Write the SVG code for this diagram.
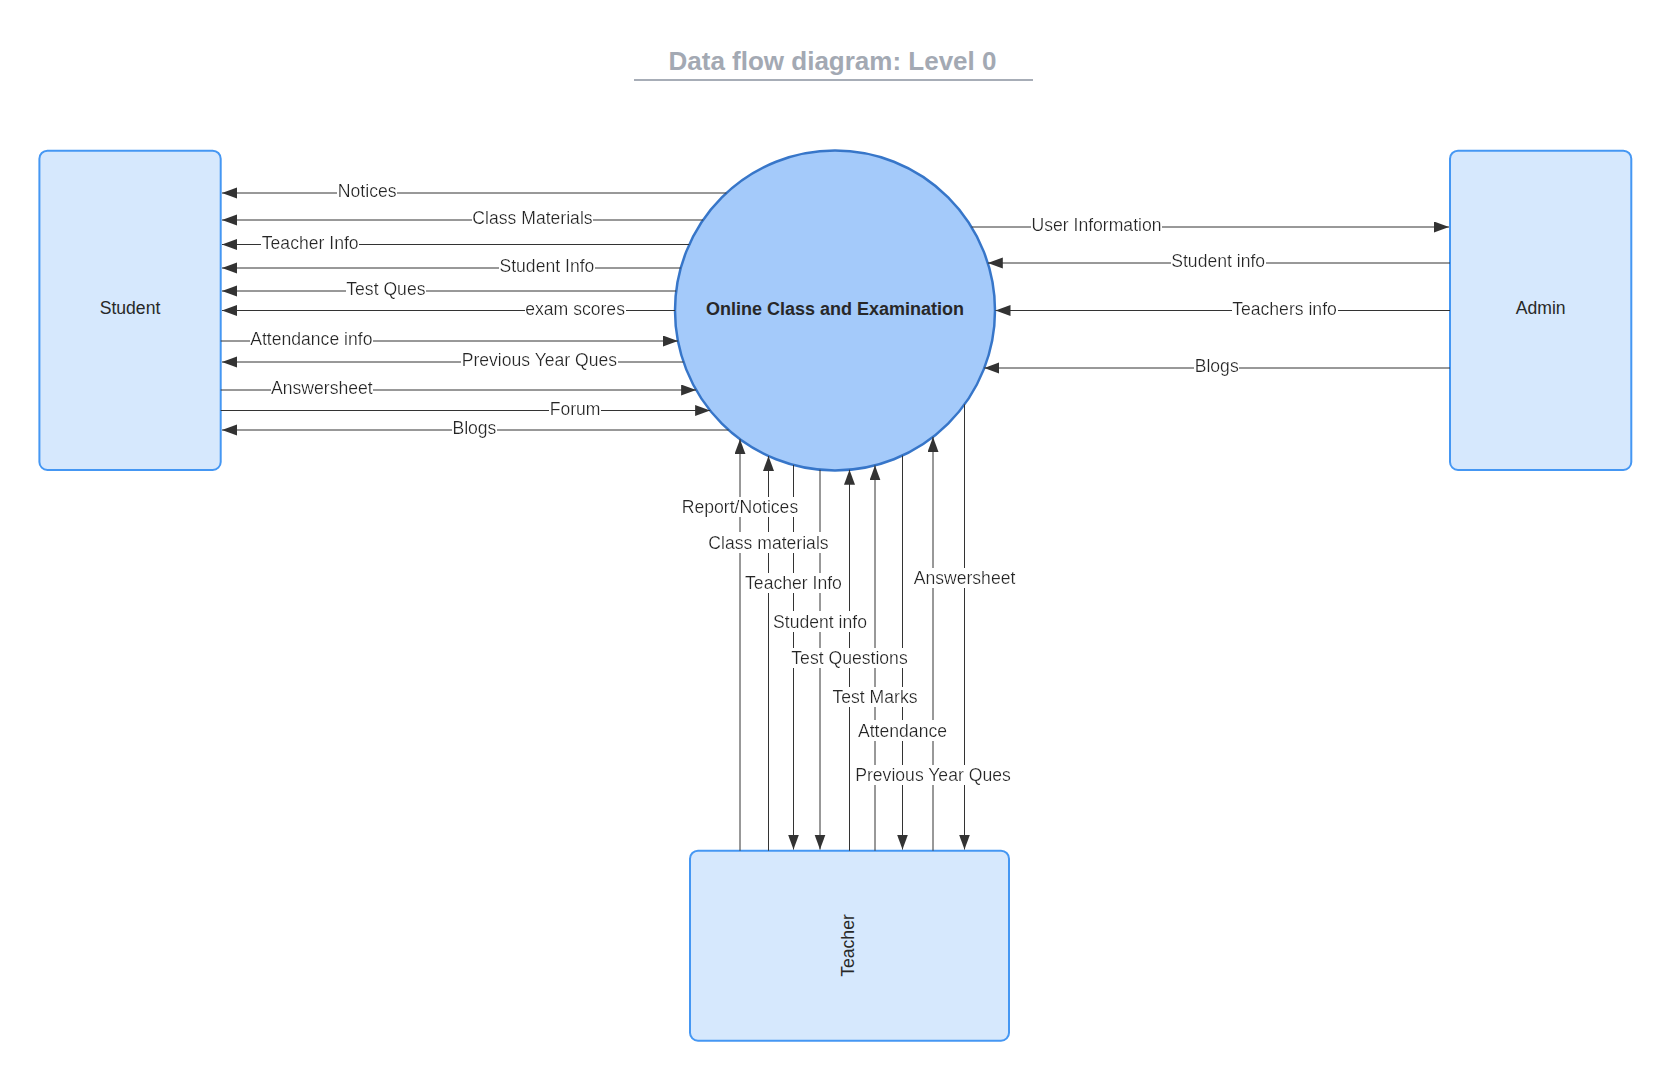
<svg xmlns="http://www.w3.org/2000/svg" width="1671" height="1081" viewBox="0 0 1671 1081">
<style>
.box{fill:#d6e8fd;stroke:#4597f3;stroke-width:2}
.proc{fill:#a4cafa;stroke:#3776c9;stroke-width:2.5}
.name{font-family:"Liberation Sans",Arial,sans-serif;font-size:17.6px;fill:#282828}
.flow{fill:none;stroke:#333;stroke-width:1}
.arr{marker-end:url(#ah)}
.lbl{font-family:"Liberation Sans",Arial,sans-serif;font-size:17.6px;fill:#282828;text-anchor:middle;filter:url(#bg)}
</style>
<defs>
<marker id="ah" markerUnits="userSpaceOnUse" markerWidth="16" markerHeight="12" refX="15" refY="5.5" orient="auto">
<path d="M0,0 L15,5.5 L0,11 z" fill="#333"/>
</marker>
<filter id="bg" x="0" y="0" width="1" height="1">
<feFlood flood-color="#ffffff"/>
<feComposite in="SourceGraphic" operator="over"/>
</filter>
</defs>
<rect width="1671" height="1081" fill="#ffffff"/>
<g id="title">
<text x="832.5" y="70" text-anchor="middle" style="font-family:'Liberation Sans',Arial,sans-serif;font-size:26px;font-weight:bold;fill:#a3a9b3">Data flow diagram: Level 0</text>
<line x1="634" y1="80" x2="1033" y2="80" stroke="#a7adb7" stroke-width="2"/>
</g>
<g id="student">
<rect class="box" x="39.4" y="150.7" width="181.3" height="319.3" rx="8"/>
<text class="name" x="130" y="314" text-anchor="middle">Student</text>
</g>
<g id="admin">
<rect class="box" x="1450" y="150.7" width="181.3" height="319.3" rx="8"/>
<text class="name" x="1540.7" y="314" text-anchor="middle">Admin</text>
</g>
<g id="teacher">
<rect class="box" x="690" y="850.7" width="319" height="190" rx="8"/>
<text class="name" transform="translate(854,945.5) rotate(-90)" text-anchor="middle">Teacher</text>
</g>
<g id="process">
<circle class="proc" cx="835" cy="310.5" r="160"/>
<text x="835" y="315" text-anchor="middle" style="font-family:'Liberation Sans',Arial,sans-serif;font-size:18px;font-weight:bold;fill:#282828">Online Class and Examination</text>
</g>
<g id="connectors">
<path class="flow arr" d="M726.4 193 L222 193"/>
<path class="flow arr" d="M703.1 220 L222 220"/>
<path class="flow arr" d="M689.2 244.5 L222 244.5"/>
<path class="flow arr" d="M680.7 268 L222 268"/>
<path class="flow arr" d="M676.2 291 L222 291"/>
<path class="flow arr" d="M675 310.5 L222 310.5"/>
<path class="flow arr" d="M220.7 341 L677.9 341"/>
<path class="flow arr" d="M683.5 362 L222 362"/>
<path class="flow arr" d="M220.7 390 L696.1 390"/>
<path class="flow arr" d="M220.7 410.5 L710.1 410.5"/>
<path class="flow arr" d="M728.6 430 L222 430"/>
<path class="flow arr" d="M971.5 227 L1449 227"/>
<path class="flow arr" d="M1450 263 L987.8 263"/>
<path class="flow arr" d="M1450 310.5 L995.5 310.5"/>
<path class="flow arr" d="M1450 368 L984.3 368"/>
<path class="flow arr" d="M740 850.7 L740 439.2"/>
<path class="flow arr" d="M768.5 850.7 L768.5 456"/>
<path class="flow arr" d="M793.5 465 L793.5 849.5"/>
<path class="flow arr" d="M820 469.8 L820 849.5"/>
<path class="flow arr" d="M849.5 850.7 L849.5 469.8"/>
<path class="flow arr" d="M875 850.7 L875 465.4"/>
<path class="flow arr" d="M902.5 455.6 L902.5 849.5"/>
<path class="flow arr" d="M933 850.7 L933 437"/>
<path class="flow arr" d="M964.5 404.4 L964.5 849.5"/>
<text class="lbl" x="367.2" y="197">Notices</text>
<text class="lbl" x="532.5" y="224">Class Materials</text>
<text class="lbl" x="310.2" y="248.5">Teacher Info</text>
<text class="lbl" x="546.9" y="272">Student Info</text>
<text class="lbl" x="385.9" y="295">Test Ques</text>
<text class="lbl" x="575.1" y="314.5">exam scores</text>
<text class="lbl" x="311.3" y="345">Attendance info</text>
<text class="lbl" x="539.4" y="366">Previous Year Ques</text>
<text class="lbl" x="321.9" y="394">Answersheet</text>
<text class="lbl" x="575.1" y="414.5">Forum</text>
<text class="lbl" x="474.4" y="434">Blogs</text>
<text class="lbl" x="1096.5" y="231">User Information</text>
<text class="lbl" x="1218.2" y="267">Student info</text>
<text class="lbl" x="1284.5" y="314.5">Teachers info</text>
<text class="lbl" x="1216.7" y="372">Blogs</text>
<text class="lbl" x="740" y="513">Report/Notices</text>
<text class="lbl" x="768.5" y="548.5">Class materials</text>
<text class="lbl" x="964.5" y="584">Answersheet</text>
<text class="lbl" x="793.5" y="589">Teacher Info</text>
<text class="lbl" x="820" y="627.5">Student info</text>
<text class="lbl" x="849.5" y="664">Test Questions</text>
<text class="lbl" x="875" y="703">Test Marks</text>
<text class="lbl" x="902.5" y="736.5">Attendance</text>
<text class="lbl" x="933" y="781">Previous Year Ques</text>
</g>
</svg>
